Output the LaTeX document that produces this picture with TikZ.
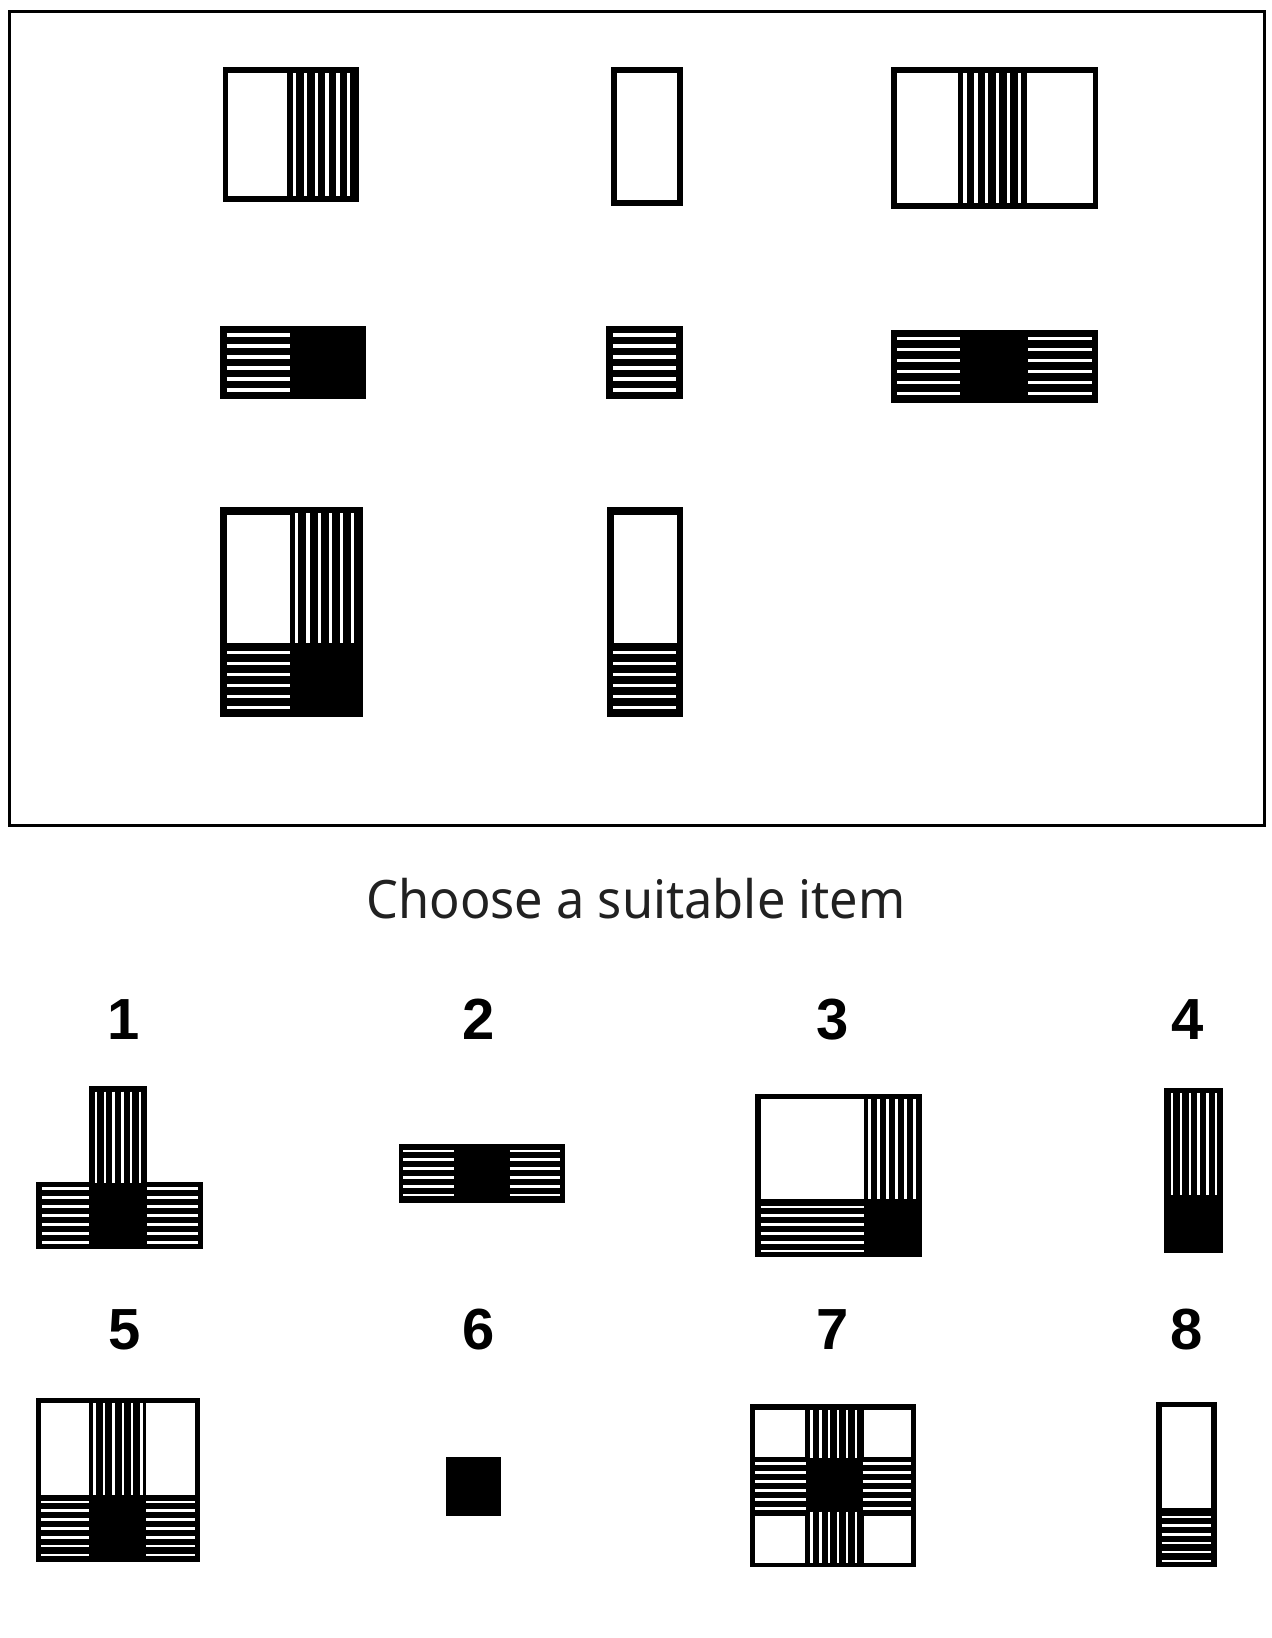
\documentclass[tikz,border=0pt]{standalone}
\usepackage{fontspec}
\setmainfont{Noto Sans}
\newfontfamily\numfont{Liberation Sans}
\newcommand\figblk[4]{\fill[black] (#1,#2) rectangle (#3,#4);}
\newcommand\figwht[4]{\fill[white] (#1,#2) rectangle (#3,#4);}
% vertical stripes: first x, spacing, count, y1, y2, width
\newcommand\figvs[6]{\foreach \k in {1,...,#3} \draw[white,line width=#6] ({#1+(\k-1)*#2},#4) -- ({#1+(\k-1)*#2},#5);}
% horizontal stripes: first y, spacing, count, x1, x2, width
\newcommand\fighs[6]{\foreach \k in {1,...,#3} \draw[white,line width=#6] (#4,{#1+(\k-1)*#2}) -- (#5,{#1+(\k-1)*#2});}
\tikzset{
  numlabel/.style={anchor=base, font=\numfont\bfseries\fontsize{29}{34}\selectfont},
  frame/.style={draw=black, line width=1.5pt}
}
\begin{document}
\begin{tikzpicture}[x=0.5pt,y=-0.5pt]
\useasboundingbox (0,0) rectangle (1272,1638);
\fill[white] (0,0) rectangle (1272,1638);
% frame
\draw[frame] (9.5,11.5) rectangle (1264.5,825.5);
% ---------- row 1
% A1
\figblk{223}{67}{359}{202}
\figwht{228}{73}{287}{196}
\figvs{294.3}{10.9}{6}{73}{196}{1.6pt}
% A2
\figblk{611}{67}{683}{206}
\figwht{617}{73}{677}{200}
% A3
\figblk{891}{67}{1098}{209}
\figwht{897}{73}{958}{203}
\figwht{1027}{73}{1093}{203}
\figvs{965}{10.9}{6}{73}{203}{1.6pt}
% ---------- row 2
% B1
\figblk{220}{326}{366}{399}
\fighs{335}{11}{6}{226.5}{290}{1.6pt}
% B2
\figblk{606}{326}{683}{399}
\fighs{335}{11}{6}{613}{676}{1.6pt}
% B3
\figblk{891}{330}{1098}{403}
\fighs{338.3}{11}{6}{897}{960}{1.6pt}
\fighs{338.3}{11}{6}{1028}{1092}{1.6pt}
% ---------- row 3
% C1
\figblk{220}{507}{363}{717}
\figwht{227}{515}{290}{643}
\figvs{296.7}{11.2}{6}{513}{643}{1.6pt}
\fighs{652.3}{11}{6}{227}{290}{1.6pt}
% C2
\figblk{607}{507}{683}{717}
\figwht{614}{515}{677}{643}
\fighs{652.3}{11}{6}{613}{676}{1.6pt}
% ---------- title
\node (title) [anchor=base, font=\fontsize{26.5}{32}\selectfont, text=black!87] at (636,918) {\scalebox{0.953}[1]{Choose a suitable item}};
% ---------- labels
\node (n1) [numlabel] at (124,1039) {1};
\node (n2) [numlabel] at (478.7,1039) {2};
\node (n3) [numlabel] at (833,1039) {3};
\node (n4) [numlabel] at (1188,1039) {4};
\node (n5) [numlabel] at (124.5,1349) {5};
\node (n6) [numlabel] at (478.7,1349) {6};
\node (n7) [numlabel] at (833,1349) {7};
\node (n8) [numlabel] at (1187,1349) {8};
% ---------- option 1
\figblk{88.9}{1086}{147.4}{1183}
\figblk{36.1}{1182}{202.9}{1249}
\figvs{96}{8.8}{6}{1091.5}{1182.5}{1.2pt}
\fighs{1188.3}{9}{7}{42}{88.9}{1.2pt}
\fighs{1188.3}{9}{7}{147.4}{197.5}{1.2pt}
% ---------- option 2
\figblk{398.9}{1144}{565.3}{1203}
\fighs{1150.7}{8.9}{6}{403}{454.4}{1.2pt}
\fighs{1150.7}{8.9}{6}{509.9}{560}{1.2pt}
% ---------- option 3
\figblk{755.4}{1094}{922.1}{1257}
\figwht{760.7}{1099}{863.6}{1199}
\figvs{869.6}{8.95}{6}{1099}{1199}{1.2pt}
\fighs{1206.7}{8.9}{6}{760.7}{863.6}{1.2pt}
% ---------- option 4
\figblk{1164.2}{1088}{1223.2}{1253}
\figvs{1172.1}{8.8}{6}{1093}{1195}{1.2pt}
% ---------- option 5
\figblk{36.1}{1398}{199.9}{1562}
\figwht{41}{1403.3}{88.9}{1495}
\figwht{146.3}{1403.3}{195.3}{1495}
\figvs{94.6}{9.4}{6}{1403.3}{1495}{1.2pt}
\fighs{1501.7}{8.9}{7}{41}{88.9}{1.2pt}
\fighs{1501.7}{8.9}{7}{146.3}{195.3}{1.2pt}
% ---------- option 6
\figblk{445.6}{1456.7}{501.1}{1515.7}
% ---------- option 7
\figblk{750}{1404}{916}{1567}
\figwht{755.4}{1410}{805.3}{1457.3}
\figwht{863.6}{1410}{910.7}{1457.3}
\figwht{755.4}{1516}{805.3}{1562.7}
\figwht{863.6}{1516}{910.7}{1562.7}
\figvs{811.4}{8.9}{6}{1410}{1458}{1.2pt}
\figvs{811.4}{8.9}{6}{1511.7}{1562.7}{1.2pt}
\fighs{1463.3}{9}{6}{755.4}{806.4}{1.2pt}
\fighs{1463.3}{9}{6}{862.5}{910.7}{1.2pt}
% ---------- option 8
\figblk{1156.4}{1401.7}{1216.7}{1567.3}
\figwht{1161.7}{1407.3}{1211.4}{1508.3}
\fighs{1516.7}{8.8}{6}{1161.7}{1211.4}{1.2pt}
\end{tikzpicture}
\end{document}
